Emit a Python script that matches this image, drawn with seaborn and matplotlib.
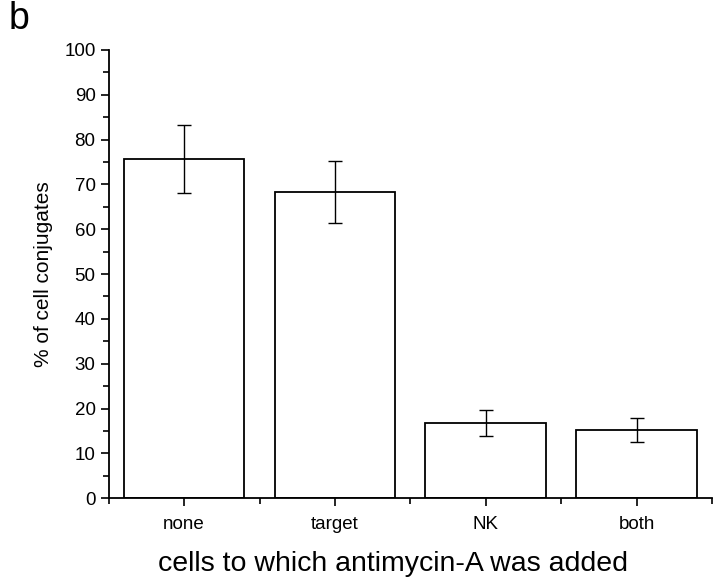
import numpy as np
import pandas as pd
import matplotlib
matplotlib.use("Agg")
import matplotlib.pyplot as plt
import seaborn as sns
from matplotlib.ticker import MultipleLocator, FixedLocator

# values
groups = ["none", "target", "NK", "both"]
conjugates = [75.7, 68.3, 16.8, 15.2]
errors = [7.6, 6.9, 2.9, 2.6]

df = pd.DataFrame({"group": groups, "pct": conjugates})

sns.set_style("ticks")
plt.rcParams['font.family'] = ['Liberation Sans', 'DejaVu Sans']
plt.rcParams['text.color'] = 'black'
plt.rcParams['axes.labelcolor'] = 'black'

fig = plt.figure(figsize=(7.2, 5.8), dpi=100)
ax = fig.add_axes([0.151, 0.141, 0.838, 0.773])

sns.barplot(data=df, x="group", y="pct", color="white", edgecolor="black",
            linewidth=1.3, width=0.8, errorbar=None, ax=ax)
ax.errorbar(range(len(groups)), conjugates, yerr=errors, fmt="none",
            ecolor="black", elinewidth=1, capsize=5, capthick=1)

ax.set_xlim(-0.5, 3.5)
ax.set_ylim(0, 100)
ax.yaxis.set_major_locator(MultipleLocator(10))
ax.yaxis.set_minor_locator(MultipleLocator(5))
ax.xaxis.set_minor_locator(FixedLocator([-0.5, 0.5, 1.5, 2.5, 3.5]))
ax.tick_params(axis="both", which="major", length=6, width=1.2, labelsize=13.5,
               colors="black", labelcolor="black")
ax.tick_params(axis="both", which="minor", length=4, width=1.2, colors="black")
ax.tick_params(axis="x", which="major", pad=7)

for s in ["left", "bottom"]:
    ax.spines[s].set_linewidth(1.3)
    ax.spines[s].set_color("black")
sns.despine(ax=ax)

ax.set_xlabel("cells to which antimycin-A was added", fontsize=20.5)
ax.xaxis.set_label_coords(0.471, -0.118)
ax.set_ylabel("% of cell conjugates", fontsize=15, labelpad=8)

fig.text(0.012, 0.95, "b", fontsize=27)

fig.savefig("out.png", dpi=100)
